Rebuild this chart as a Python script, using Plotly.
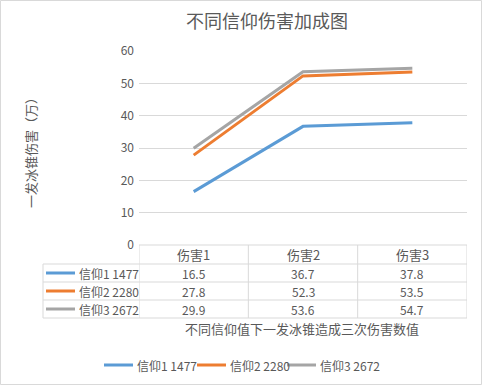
import plotly.graph_objects as go

categories = ["伤害1", "伤害2", "伤害3"]
series_names = ["信仰1 1477", "信仰2 2280", "信仰3 2672"]
s1 = [16.5, 36.7, 37.8]
s2 = [27.8, 52.3, 53.5]
s3 = [29.9, 53.6, 54.7]
series_values = [s1, s2, s3]
colors = ["#5B9BD5", "#ED7D31", "#A5A5A5"]
title_text = "不同信仰伤害加成图"
y_title = "一发冰锥伤害（万）"
x_title = "不同信仰值下一发冰锥造成三次伤害数值"

W, H = 482, 385
L, R, T, B = 139, 467, 51, 245
FONT = "Noto Sans CJK SC, Microsoft YaHei, sans-serif"
TXT = "#595959"
GRID = "#D9D9D9"


def xp(px):
    return (px - L) / (R - L)


def yp(py):
    return (B - py) / (B - T)


def txt(x, y, text, size, xref="paper", xanchor="center", angle=0):
    return dict(x=x, y=y, xref=xref, yref="paper", text=text, showarrow=False,
                xanchor=xanchor, yanchor="middle", textangle=angle,
                font=dict(size=size, color=TXT, family=FONT))


fig = go.Figure()
for name, vals, c in zip(series_names, series_values, colors):
    fig.add_trace(go.Scatter(x=categories, y=vals, name=name, mode="lines",
                             line=dict(color=c, width=3)))

shapes = []
ann = []

# table grid lines
row_edges = [245, 264, 282, 300, 318]
for i, py in enumerate(row_edges):
    x0 = L if i == 0 else 43
    shapes.append(dict(type="line", xref="paper", yref="paper", x0=xp(x0), x1=1,
                       y0=yp(py), y1=yp(py), line=dict(color=GRID, width=1)))
for xv in [-0.5, 0.5, 1.5, 2.5]:
    shapes.append(dict(type="line", xref="x", yref="paper", x0=xv, x1=xv,
                       y0=yp(245), y1=yp(318), line=dict(color=GRID, width=1)))
shapes.append(dict(type="line", xref="paper", yref="paper", x0=xp(43), x1=xp(43),
                   y0=yp(264), y1=yp(318), line=dict(color=GRID, width=1)))

# header
for i, cat in enumerate(categories):
    ann.append(txt(i, yp(254.5), cat, 13, xref="x"))
row_centers = [273, 291, 309]
for r, (name, vals, c) in enumerate(zip(series_names, series_values, colors)):
    yc = row_centers[r]
    shapes.append(dict(type="line", xref="paper", yref="paper", x0=xp(46), x1=xp(75),
                       y0=yp(yc), y1=yp(yc), line=dict(color=c, width=3)))
    ann.append(txt(xp(77), yp(yc), name, 12, xanchor="left"))
    for i, v in enumerate(vals):
        ann.append(txt(i, yp(yc), f"{v:.1f}", 12, xref="x"))

# bottom legend (manual)
leg_x = [104, 197, 287]
leg_y = 365
for lx, name, c in zip(leg_x, series_names, colors):
    shapes.append(dict(type="line", xref="paper", yref="paper", x0=xp(lx), x1=xp(lx + 29),
                       y0=yp(leg_y), y1=yp(leg_y), line=dict(color=c, width=3)))
    ann.append(txt(xp(lx + 31), yp(leg_y), name, 12, xanchor="left"))

# titles
ann.append(txt(xp(267), yp(20), title_text, 18))
ann.append(txt(xp(302), yp(328), x_title, 13))
ann.append(txt(xp(30), yp(150), y_title, 13, angle=-90))

# outer border
shapes.append(dict(type="rect", xref="paper", yref="paper", x0=xp(0.5), x1=xp(W - 0.5),
                   y0=yp(0.5), y1=yp(H - 0.5), line=dict(color="#D9D9D9", width=1)))

fig.update_layout(
    width=W, height=H,
    margin=dict(l=L, r=W - R, t=T, b=H - B, pad=0, autoexpand=False),
    paper_bgcolor="white", plot_bgcolor="white",
    font=dict(family=FONT, color=TXT, size=12),
    showlegend=False,
    xaxis=dict(range=[-0.5, 2.5], showticklabels=False, showgrid=False, zeroline=False,
               showline=False, ticks=""),
    yaxis=dict(range=[0, 60], dtick=10, showgrid=True, gridcolor=GRID, gridwidth=1,
               zeroline=False, showline=False, ticks="",
               tickfont=dict(size=12, color=TXT, family=FONT), ticklabelstandoff=4),
    shapes=shapes, annotations=ann,
)

fig.write_html("out.html", config={"displayModeBar": False},
               post_script="document.body.style.margin='0';document.body.style.overflow='hidden';")
